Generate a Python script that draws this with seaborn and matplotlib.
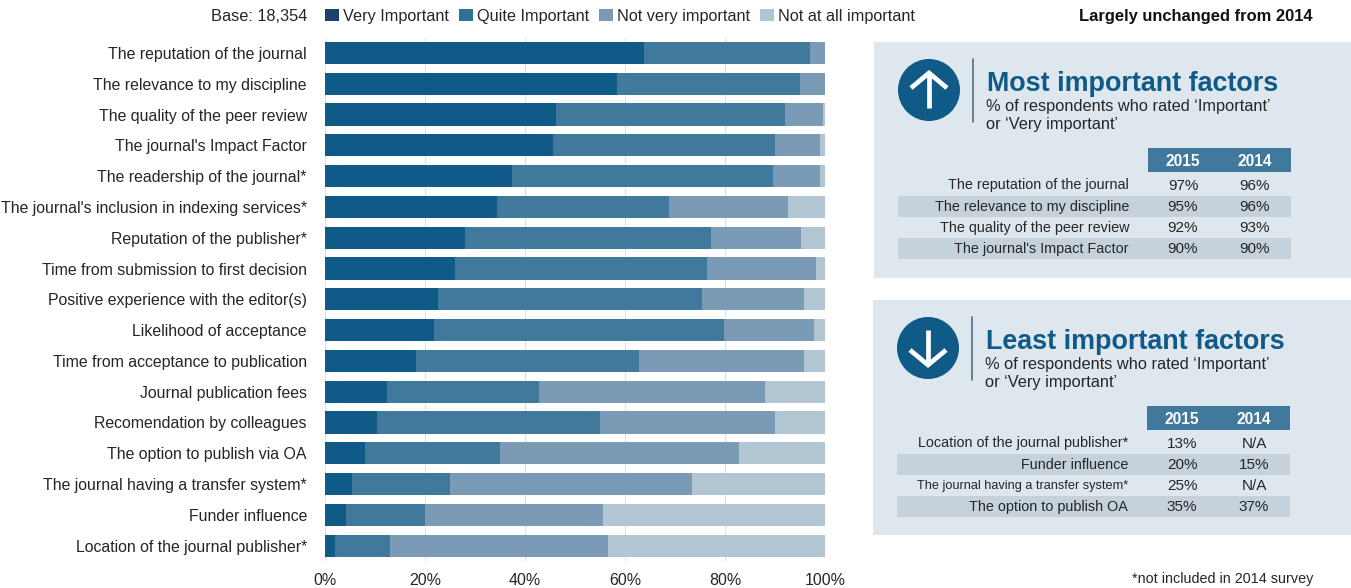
import numpy as np
import pandas as pd
import matplotlib
matplotlib.use("Agg")
import matplotlib.pyplot as plt
from matplotlib.patches import Circle, Patch, Rectangle
import seaborn as sns

factors = [
    "The reputation of the journal", "The relevance to my discipline",
    "The quality of the peer review", "The journal's Impact Factor",
    "The readership of the journal*", "The journal's inclusion in indexing services*",
    "Reputation of the publisher*", "Time from submission to first decision",
    "Positive experience with the editor(s)", "Likelihood of acceptance",
    "Time from acceptance to publication", "Journal publication fees",
    "Recomendation by colleagues", "The option to publish via OA",
    "The journal having a transfer system*", "Funder influence",
    "Location of the journal publisher*",
]
very_important = [63.8, 58.4, 46.1, 45.6, 37.4, 34.4, 27.9, 25.9, 22.6, 21.8, 18.2, 12.3, 10.4, 7.9, 5.3, 4.2, 2.0]
quite_important = [33.2, 36.6, 45.9, 44.4, 52.2, 34.4, 49.2, 50.5, 52.8, 57.9, 44.5, 30.5, 44.5, 27.1, 19.7, 15.8, 11.0]
not_very_important = [3.0, 5.0, 7.5, 8.9, 9.3, 23.8, 18.1, 21.8, 20.4, 18.0, 33.1, 45.2, 35.1, 47.8, 48.4, 35.5, 43.6]
not_at_all_important = [0.0, 0.0, 0.5, 1.1, 1.1, 7.4, 4.8, 1.8, 4.2, 2.3, 4.2, 12.0, 10.0, 17.2, 26.6, 44.5, 43.4]

series_names = ["Very Important", "Quite Important", "Not very important", "Not at all important"]
bar_colors = ["#0f5a87", "#40799b", "#7a9ab5", "#b1c5d3"]
legend_colors = ["#1b3f6f", "#2f7299", "#7a9ab5", "#b1c5d3"]

most_labels = ["The reputation of the journal", "The relevance to my discipline",
               "The quality of the peer review", "The journal's Impact Factor"]
most_2015 = ["97%", "95%", "92%", "90%"]
most_2014 = ["96%", "96%", "93%", "90%"]
least_labels = ["Location of the journal publisher*", "Funder influence",
                "The journal having a transfer system*", "The option to publish OA"]
least_2015 = ["13%", "20%", "25%", "35%"]
least_2014 = ["N/A", "15%", "N/A", "37%"]

W, H = 1351, 588
TEXT = "#262626"
PANEL = "#dde7ed"
STRIPE = "#c5d2dc"
HEADER = "#40799b"
ACCENT = "#0f5a87"

sns.set_theme(style="white")
plt.rcParams["font.family"] = ["Liberation Sans", "DejaVu Sans"]

fig = plt.figure(figsize=(W / 100, H / 100), dpi=100, facecolor="white")

# Pixel-addressed layer for the side panels and header text
canvas = fig.add_axes([0, 0, 1, 1], zorder=0)
canvas.set_xlim(0, W)
canvas.set_ylim(H, 0)
canvas.axis("off")

# Stacked bars: the running totals are drawn longest first so each shorter one sits on top
ax = fig.add_axes([325 / W, 1 - 561 / H, 500 / W, (561 - 37.6) / H], zorder=1)
ax.patch.set_alpha(0)
table = pd.DataFrame({"factor": factors})
running = np.cumsum([very_important, quite_important, not_very_important, not_at_all_important], axis=0)
for name, totals, color in reversed(list(zip(series_names, running, bar_colors))):
    table[name] = totals
    sns.barplot(data=table, y="factor", x=name, order=factors, color=color,
                saturation=1, width=0.72, linewidth=0, ax=ax, zorder=3)

ax.set_xlim(0, 100)
ax.set_ylim(16.5, -0.5)
ax.set_xlabel("")
ax.set_ylabel("")
ax.set_xticks([0, 20, 40, 60, 80, 100])
ax.set_xticklabels(["0%", "20%", "40%", "60%", "80%", "100%"])
ax.grid(axis="x", color="#e0e0e0", linewidth=0.8, zorder=0)
ax.set_axisbelow(True)
ax.tick_params(axis="x", length=0, pad=8.5, labelsize=11.5, labelcolor=TEXT)
ax.tick_params(axis="y", length=0, pad=13, labelsize=11.4, labelcolor=TEXT)
sns.despine(ax=ax, left=True, bottom=True)

# Header row
handles = [Patch(facecolor=c, edgecolor="none", label=n) for c, n in zip(legend_colors, series_names)]
fig.legend(handles=handles, loc="upper left", bbox_to_anchor=(325 / W, 1 - 9 / H), ncol=4,
           frameon=False, fontsize=11.7, labelcolor=TEXT, borderpad=0, borderaxespad=0,
           handlelength=0.86, handleheight=0.75, handletextpad=0.25, columnspacing=0.62)
canvas.text(307, 16.5, "Base: 18,354", ha="right", va="center", fontsize=11.8, color=TEXT)
canvas.text(1313, 16.5, "Largely unchanged from 2014", ha="right", va="center",
            fontsize=11.9, fontweight="bold", color="#111111")
canvas.text(1313, 579, "*not included in 2014 survey", ha="right", va="center", fontsize=10.4, color=TEXT)


def factor_panel(top, bottom, left, title, labels, label_sizes, col_2015, col_2014, direction):
    """Shaded box with an arrow badge, heading and a small two-year table."""
    canvas.add_patch(Rectangle((left, top), W - left, bottom - top, facecolor=PANEL, edgecolor="none"))

    cx, cy = left + 55, top + 48
    canvas.add_patch(Circle((cx, cy), 31, facecolor=ACCENT, edgecolor="none"))
    tip, tail = (cy - 17, cy + 18) if direction == "up" else (cy + 17, cy - 18)
    wing = tip + (15 if direction == "up" else -15)
    canvas.plot([cx, cx], [tail, tip], color="white", lw=3.4, solid_capstyle="butt")
    canvas.plot([cx - 18, cx, cx + 18], [wing, tip, wing], color="white", lw=3.4,
                solid_joinstyle="miter", solid_capstyle="butt")
    canvas.plot([left + 99, left + 99], [top + 17, top + 80], color="#55707f", lw=1.2)

    canvas.text(left + 113, top + 42, title, ha="left", va="center", fontsize=19.4,
                fontweight="bold", color=ACCENT)
    canvas.text(left + 112, top + 64, "% of respondents who rated \u2018Important\u2019",
                ha="left", va="center", fontsize=11.8, color=TEXT)
    canvas.text(left + 112, top + 82, "or \u2018Very important\u2019",
                ha="left", va="center", fontsize=11.8, color=TEXT)

    canvas.add_patch(Rectangle((left + 274, top + 106), 143, 24, facecolor=HEADER, edgecolor="none"))
    canvas.text(left + 309, top + 119, "2015", ha="center", va="center", fontsize=11.2,
                fontweight="bold", color="white")
    canvas.text(left + 381, top + 119, "2014", ha="center", va="center", fontsize=11.2,
                fontweight="bold", color="white")

    for i, (label, size, v15, v14) in enumerate(zip(labels, label_sizes, col_2015, col_2014)):
        y = top + 143.5 + i * 21.2
        if i % 2 == 1:
            canvas.add_patch(Rectangle((left + 24, y - 11), 393, 21, facecolor=STRIPE, edgecolor="none"))
        canvas.text(left + 255, y, label, ha="right", va="center", fontsize=size, color=TEXT)
        canvas.text(left + 309, y, v15, ha="center", va="center", fontsize=11, color=TEXT)
        canvas.text(left + 381, y, v14, ha="center", va="center", fontsize=11, color=TEXT)


factor_panel(42, 278, 874, "Most important factors", most_labels, [10.4] * 4, most_2015, most_2014, "up")
factor_panel(300, 535, 873, "Least important factors", least_labels, [10.4, 10.4, 9.2, 10.4],
             least_2015, least_2014, "down")

fig.savefig("out.png", dpi=100, facecolor="white")
